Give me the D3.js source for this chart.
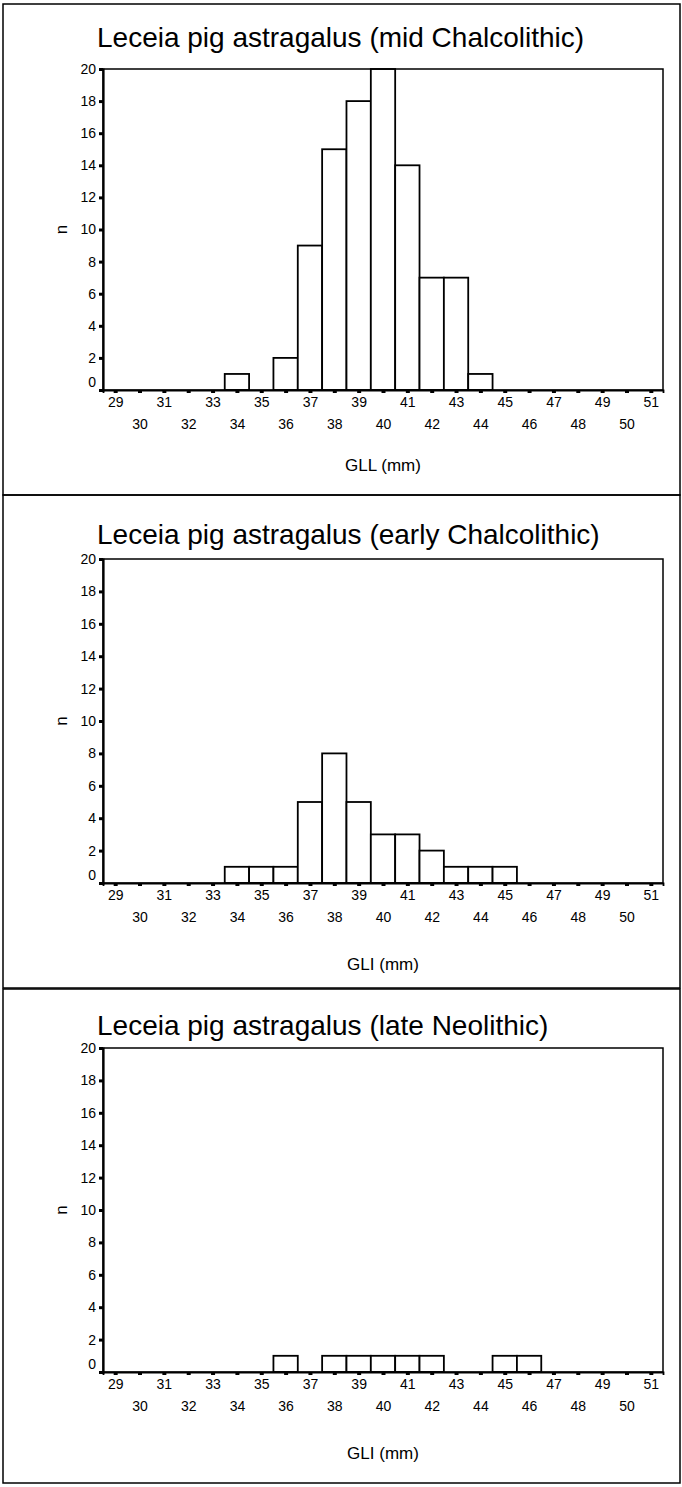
<!DOCTYPE html>
<html>
<head>
<meta charset="utf-8">
<script src="https://cdn.jsdelivr.net/npm/d3@7"></script>
<style>
  body { margin: 0; background: #fff; }
  svg { display: block; font-family: "Liberation Sans", Arial, sans-serif; }
</style>
</head>
<body>
<div id="root"></div>
<script>
// mm classes on the x axis, one bar per class
const mmClasses = [29, 30, 31, 32, 33, 34, 35, 36, 37, 38, 39, 40, 41, 42, 43, 44, 45, 46, 47, 48, 49, 50, 51];
const countTicks = [0, 2, 4, 6, 8, 10, 12, 14, 16, 18, 20];

const titles = [
  "Leceia pig astragalus (mid Chalcolithic)",
  "Leceia pig astragalus (early Chalcolithic)",
  "Leceia pig astragalus (late Neolithic)",
];
const axisLabels = ["GLL (mm)", "GLI (mm)", "GLI (mm)"];

// counts per class, same order as mmClasses
const midChalcolithic = [0, 0, 0, 0, 0, 1, 0, 2, 9, 15, 18, 20, 14, 7, 7, 1, 0, 0, 0, 0, 0, 0, 0];
const earlyChalcolithic = [0, 0, 0, 0, 0, 1, 1, 1, 5, 8, 5, 3, 3, 2, 1, 1, 1, 0, 0, 0, 0, 0, 0];
const lateNeolithic = [0, 0, 0, 0, 0, 0, 0, 1, 0, 1, 1, 1, 1, 1, 0, 0, 1, 1, 0, 0, 0, 0, 0];

const series = [midChalcolithic, earlyChalcolithic, lateNeolithic];

const width = 682;
const height = 1487;
const plotLeft = 103;
const plotRight = 663;

const layout = [
  { boxTop: 4, boxBottom: 495, titleY: 40, plotTop: 69, plotBottom: 390, labelY: 467 },
  { boxTop: 495, boxBottom: 988, titleY: 537, plotTop: 559, plotBottom: 883, labelY: 966 },
  { boxTop: 989, boxBottom: 1483, titleY: 1028, plotTop: 1048, plotBottom: 1372, labelY: 1455 },
];

const svg = d3
  .select("#root")
  .append("svg")
  .attr("width", width)
  .attr("height", height)
  .attr("viewBox", `0 0 ${width} ${height}`);

const xScale = d3
  .scaleLinear()
  .domain([mmClasses[0] - 0.5, mmClasses[mmClasses.length - 1] + 0.5])
  .range([plotLeft, plotRight]);

series.forEach((counts, i) => {
  const L = layout[i];
  const g = svg.append("g");

  g.append("rect")
    .attr("x", 3)
    .attr("y", L.boxTop)
    .attr("width", 677)
    .attr("height", L.boxBottom - L.boxTop)
    .attr("fill", "none")
    .attr("stroke", "#000")
    .attr("stroke-width", 1.5);

  g.append("text")
    .text(titles[i])
    .attr("x", 97)
    .attr("y", L.titleY)
    .attr("dominant-baseline", "middle")
    .style("font-size", "28px");

  const yScale = d3
    .scaleLinear()
    .domain([0, d3.max(countTicks)])
    .range([L.plotBottom, L.plotTop]);

  const data = mmClasses
    .map((mm, j) => ({ mm, n: counts[j] }))
    .filter((d) => d.n > 0);

  g.selectAll(".bar")
    .data(data)
    .join("rect")
    .attr("class", "bar")
    .attr("x", (d) => xScale(d.mm - 0.5))
    .attr("width", (d) => xScale(d.mm + 0.5) - xScale(d.mm - 0.5))
    .attr("y", (d) => yScale(d.n))
    .attr("height", (d) => yScale(0) - yScale(d.n))
    .attr("fill", "#fff")
    .attr("stroke", "#000")
    .attr("stroke-width", 1.8);

  // plot frame
  g.append("rect")
    .attr("x", plotLeft)
    .attr("y", L.plotTop)
    .attr("width", plotRight - plotLeft)
    .attr("height", L.plotBottom - L.plotTop)
    .attr("fill", "none")
    .attr("stroke", "#000")
    .attr("stroke-width", 1.5);

  const bottomAxis = d3
    .axisBottom(xScale)
    .tickValues(mmClasses)
    .tickSize(3)
    .tickPadding(4)
    .tickFormat(d3.format("d"));
  const xg = g
    .append("g")
    .attr("transform", `translate(0, ${L.plotBottom})`)
    .call(bottomAxis);
  xg.select(".domain").attr("stroke-width", 1.8);
  xg.selectAll(".tick line").attr("stroke-width", 4);
  xg.selectAll(".tick text")
    .attr("y", (d) => (d % 2 === 1 ? 7 : 29))
    .style("font-size", "14px")
    .attr("fill", "#000");

  const leftAxis = d3
    .axisLeft(yScale)
    .tickValues(countTicks)
    .tickSize(4)
    .tickPadding(3);
  const yg = g
    .append("g")
    .attr("transform", `translate(${plotLeft}, 0)`)
    .call(leftAxis);
  yg.select(".domain").attr("stroke-width", 2.2);
  yg.selectAll(".tick line").attr("stroke-width", 3);
  yg.selectAll(".tick text")
    .attr("dy", (d) => (d === 0 ? "-0.25em" : "0.32em"))
    .style("font-size", "14px")
    .attr("fill", "#000");

  g.append("text")
    .text("n")
    .attr("transform", `translate(63, ${(L.plotTop + L.plotBottom) / 2}) rotate(-90)`)
    .attr("text-anchor", "middle")
    .attr("dominant-baseline", "middle")
    .style("font-size", "17px");

  g.append("text")
    .text(axisLabels[i])
    .attr("x", (plotLeft + plotRight) / 2)
    .attr("y", L.labelY)
    .attr("text-anchor", "middle")
    .attr("dominant-baseline", "middle")
    .style("font-size", "17px");
});
</script>
</body>
</html>
